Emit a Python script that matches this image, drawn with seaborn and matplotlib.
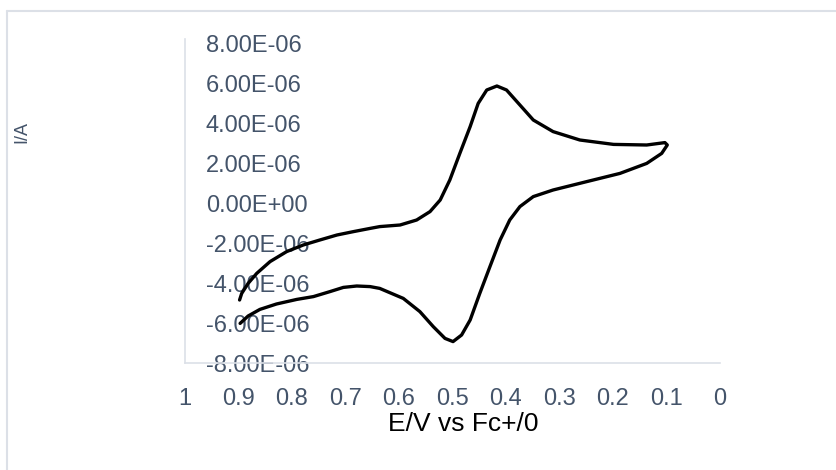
import numpy as np
import pandas as pd
import seaborn as sns
import matplotlib.pyplot as plt
from matplotlib.lines import Line2D
from matplotlib.ticker import FuncFormatter

# CV sweep: forward sweep 0.9 -> 0.1 V, then back to 0.9 V
potential = [0.898, 0.894, 0.882, 0.866, 0.841, 0.810, 0.779, 0.748, 0.716, 0.685,
             0.654, 0.636, 0.598, 0.567, 0.542, 0.523, 0.505, 0.486, 0.467, 0.452,
             0.436, 0.417, 0.399, 0.374, 0.349, 0.312, 0.262, 0.199, 0.137, 0.103,
             0.0985,
             0.109, 0.137, 0.187, 0.249, 0.312, 0.349, 0.374, 0.393, 0.411, 0.430,
             0.449, 0.467, 0.483, 0.499, 0.514, 0.536, 0.561, 0.592, 0.636, 0.654,
             0.679, 0.704, 0.729, 0.760, 0.791, 0.829, 0.860, 0.882, 0.897]
current_uA = [-4.85, -4.52, -4.02, -3.52, -2.93, -2.43, -2.10, -1.85, -1.60, -1.43,
              -1.27, -1.18, -1.10, -0.85, -0.43, 0.15, 1.15, 2.50, 3.82, 4.98,
              5.65, 5.85, 5.65, 4.90, 4.15, 3.57, 3.15, 2.93, 2.90, 3.02,
              2.90,
              2.48, 1.98, 1.48, 1.07, 0.65, 0.32, -0.18, -0.85, -1.85, -3.18,
              -4.52, -5.85, -6.60, -6.93, -6.77, -6.18, -5.43, -4.77, -4.27, -4.18,
              -4.15, -4.22, -4.43, -4.68, -4.82, -5.05, -5.32, -5.65, -6.02]

x_ticks = [1, 0.9, 0.8, 0.7, 0.6, 0.5, 0.4, 0.3, 0.2, 0.1, 0]
x_labels = ['1', '0.9', '0.8', '0.7', '0.6', '0.5', '0.4', '0.3', '0.2', '0.1', '0']
y_ticks = [-8e-6, -6e-6, -4e-6, -2e-6, 0, 2e-6, 4e-6, 6e-6, 8e-6]

df = pd.DataFrame({'E': potential, 'I': np.array(current_uA) * 1e-6})

sns.set_theme(style='white')
plt.rcParams['font.family'] = ['Liberation Sans', 'DejaVu Sans']

W, H = 837, 470
fig = plt.figure(figsize=(W / 100, H / 100), dpi=100)
# axes box in pixels: left 185, right 720, top 39, bottom 363
ax = fig.add_axes([185 / W, 1 - 363 / H, 535 / W, 324 / H])

sns.lineplot(data=df, x='E', y='I', sort=False, estimator=None, color='black',
             linewidth=2.4, ax=ax, solid_capstyle='round', solid_joinstyle='round')

txt = '#44546A'
axis_col = '#DCE0E7'

ax.set_xlim(1, 0)
ax.set_ylim(-8e-6, 8.2e-6)
ax.set_xticks(x_ticks)
ax.set_xticklabels(x_labels)
ax.set_yticks(y_ticks)
ax.yaxis.set_major_formatter(FuncFormatter(lambda v, p: f'{v:.2E}'))

ax.tick_params(axis='x', length=0, pad=18, labelsize=17, labelcolor=txt)
ax.tick_params(axis='y', length=0, pad=-15, labelsize=17, labelcolor=txt)
for lbl in ax.get_yticklabels():
    lbl.set_horizontalalignment('left')

for s in ['top', 'right']:
    ax.spines[s].set_visible(False)
for s in ['left', 'bottom']:
    ax.spines[s].set_color(axis_col)
    ax.spines[s].set_linewidth(1.2)

ax.set_xlabel('E/V vs Fc+/0', fontsize=19, color='black')
ax.xaxis.set_label_coords(0.520, -0.150)
ax.set_ylabel('')
fig.text(22 / W, 1 - 132 / H, 'I/A', rotation=90, ha='center', va='center',
         fontsize=13, color=txt)

# chart area border (only top and left edges fall inside the picture)
fig.add_artist(Line2D([7.5 / W, 1], [1 - 11 / H, 1 - 11 / H], color=axis_col, lw=1.5))
fig.add_artist(Line2D([7.5 / W, 7.5 / W], [1 - 11 / H, 0], color=axis_col, lw=1.5))

fig.savefig('out.png', dpi=100)
